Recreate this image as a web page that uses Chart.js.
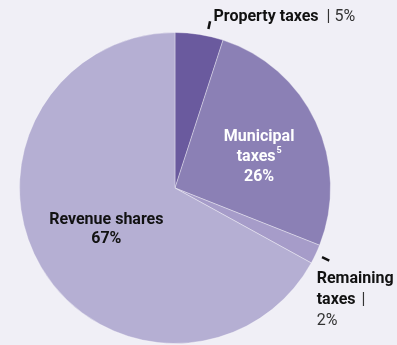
<!DOCTYPE html>
<html>
<head>
<meta charset="utf-8">
<script src="https://cdn.jsdelivr.net/npm/chart.js@4"></script>
<style>
  html, body { margin: 0; padding: 0; background: #f0eff6; }
  #wrap { width: 397px; height: 345px; position: relative; }
</style>
</head>
<body>
<div id="wrap"><canvas id="pizza"></canvas></div>
<script>
// dados (em %), sentido horário a partir das 12h
const categorias = ['Property taxes', 'Municipal taxes', 'Remaining taxes', 'Revenue shares'];
const valores = [5, 26, 2, 67];
const cores = ['#6a5a9e', '#8b80b5', '#a69cc9', '#b5afd3'];

const FONTE = 'Roboto, "Liberation Sans", Arial, sans-serif';

// rótulos desenhados por cima da pizza
const rotulosPlugin = {
  id: 'rotulos',
  afterDatasetsDraw(chart) {
    const ctx = chart.ctx;
    const arcos = chart.getDatasetMeta(0).data;
    const meio = (a) => (a.startAngle + a.endAngle) / 2;
    ctx.save();
    ctx.textBaseline = 'alphabetic';

    // traço curto para fora da pizza
    function traco(arco, ang) {
      const r1 = arco.outerRadius + 7, r2 = arco.outerRadius + 15;
      ctx.strokeStyle = '#111';
      ctx.lineWidth = 2.5;
      ctx.beginPath();
      ctx.moveTo(arco.x + Math.cos(ang) * r1, arco.y + Math.sin(ang) * r1);
      ctx.lineTo(arco.x + Math.cos(ang) * r2, arco.y + Math.sin(ang) * r2);
      ctx.stroke();
    }

    // Property taxes | 5%
    const a0 = arcos[0];
    const ang0 = meio(a0) + 0.05;
    traco(a0, ang0);
    let x = a0.x + Math.cos(ang0) * (a0.outerRadius + 17) + 3;
    let y = a0.y - a0.outerRadius - 12;
    ctx.textAlign = 'left';
    ctx.fillStyle = '#111';
    ctx.font = 'bold 16px ' + FONTE;
    ctx.fillText('Property taxes', x, y);
    x += ctx.measureText('Property taxes').width + 8;
    ctx.font = '16px ' + FONTE;
    ctx.fillStyle = '#333';
    ctx.fillText('| ' + valores[0] + '%', x, y);

    // Municipal taxes 26% (dentro, branco)
    const a1 = arcos[1];
    const ang1 = meio(a1) + 0.07;
    const cx1 = a1.x + Math.cos(ang1) * a1.outerRadius * 0.58;
    const cy1 = a1.y + Math.sin(ang1) * a1.outerRadius * 0.58;
    ctx.fillStyle = '#fff';
    ctx.font = 'bold 16px ' + FONTE;
    ctx.textAlign = 'center';
    ctx.fillText('Municipal', cx1, cy1 - 14);
    const wT = ctx.measureText('taxes').width;
    ctx.fillText('taxes', cx1 - 3, cy1 + 6);
    ctx.font = 'bold 9px ' + FONTE;
    ctx.textAlign = 'left';
    ctx.fillText('5', cx1 - 3 + wT / 2 + 1, cy1 - 2);
    ctx.font = 'bold 16px ' + FONTE;
    ctx.textAlign = 'center';
    ctx.fillText(valores[1] + '%', cx1, cy1 + 26);

    // Remaining taxes | 2%
    const a2 = arcos[2];
    const ang2 = meio(a2);
    traco(a2, ang2);
    const x2 = a2.x + Math.cos(ang2) * a2.outerRadius + 1;
    const y2 = a2.y + Math.sin(ang2) * a2.outerRadius + 29;
    ctx.textAlign = 'left';
    ctx.fillStyle = '#111';
    ctx.font = 'bold 16px ' + FONTE;
    ctx.fillText('Remaining', x2, y2);
    ctx.fillText('taxes', x2, y2 + 21);
    const wt2 = ctx.measureText('taxes ').width;
    ctx.font = '16px ' + FONTE;
    ctx.fillStyle = '#333';
    ctx.fillText('|', x2 + wt2 + 2, y2 + 21);
    ctx.fillText(valores[2] + '%', x2, y2 + 42);

    // Revenue shares 67%
    const a3 = arcos[3];
    const ang3 = meio(a3) + 0.01;
    const cx3 = a3.x + Math.cos(ang3) * a3.outerRadius * 0.51;
    const cy3 = a3.y + Math.sin(ang3) * a3.outerRadius * 0.51;
    ctx.fillStyle = '#111';
    ctx.font = 'bold 16px ' + FONTE;
    ctx.textAlign = 'center';
    ctx.fillText('Revenue shares', cx3, cy3 - 4);
    ctx.fillText(valores[3] + '%', cx3, cy3 + 15);

    ctx.restore();
  }
};

const ctx = document.getElementById('pizza').getContext('2d');
const grafico = new Chart(ctx, {
  type: 'pie',
  data: {
    labels: categorias,
    datasets: [{
      data: valores,
      backgroundColor: cores,
      borderColor: 'rgba(255,255,255,0.35)',
      borderWidth: 1
    }]
  },
  options: {
    responsive: true,
    maintainAspectRatio: false,
    animation: false,
    layout: { padding: { top: 32, bottom: 1, left: 19, right: 66 } },
    plugins: {
      legend: { display: false },
      tooltip: { enabled: false }
    }
  },
  plugins: [rotulosPlugin]
});
</script>
</body>
</html>
